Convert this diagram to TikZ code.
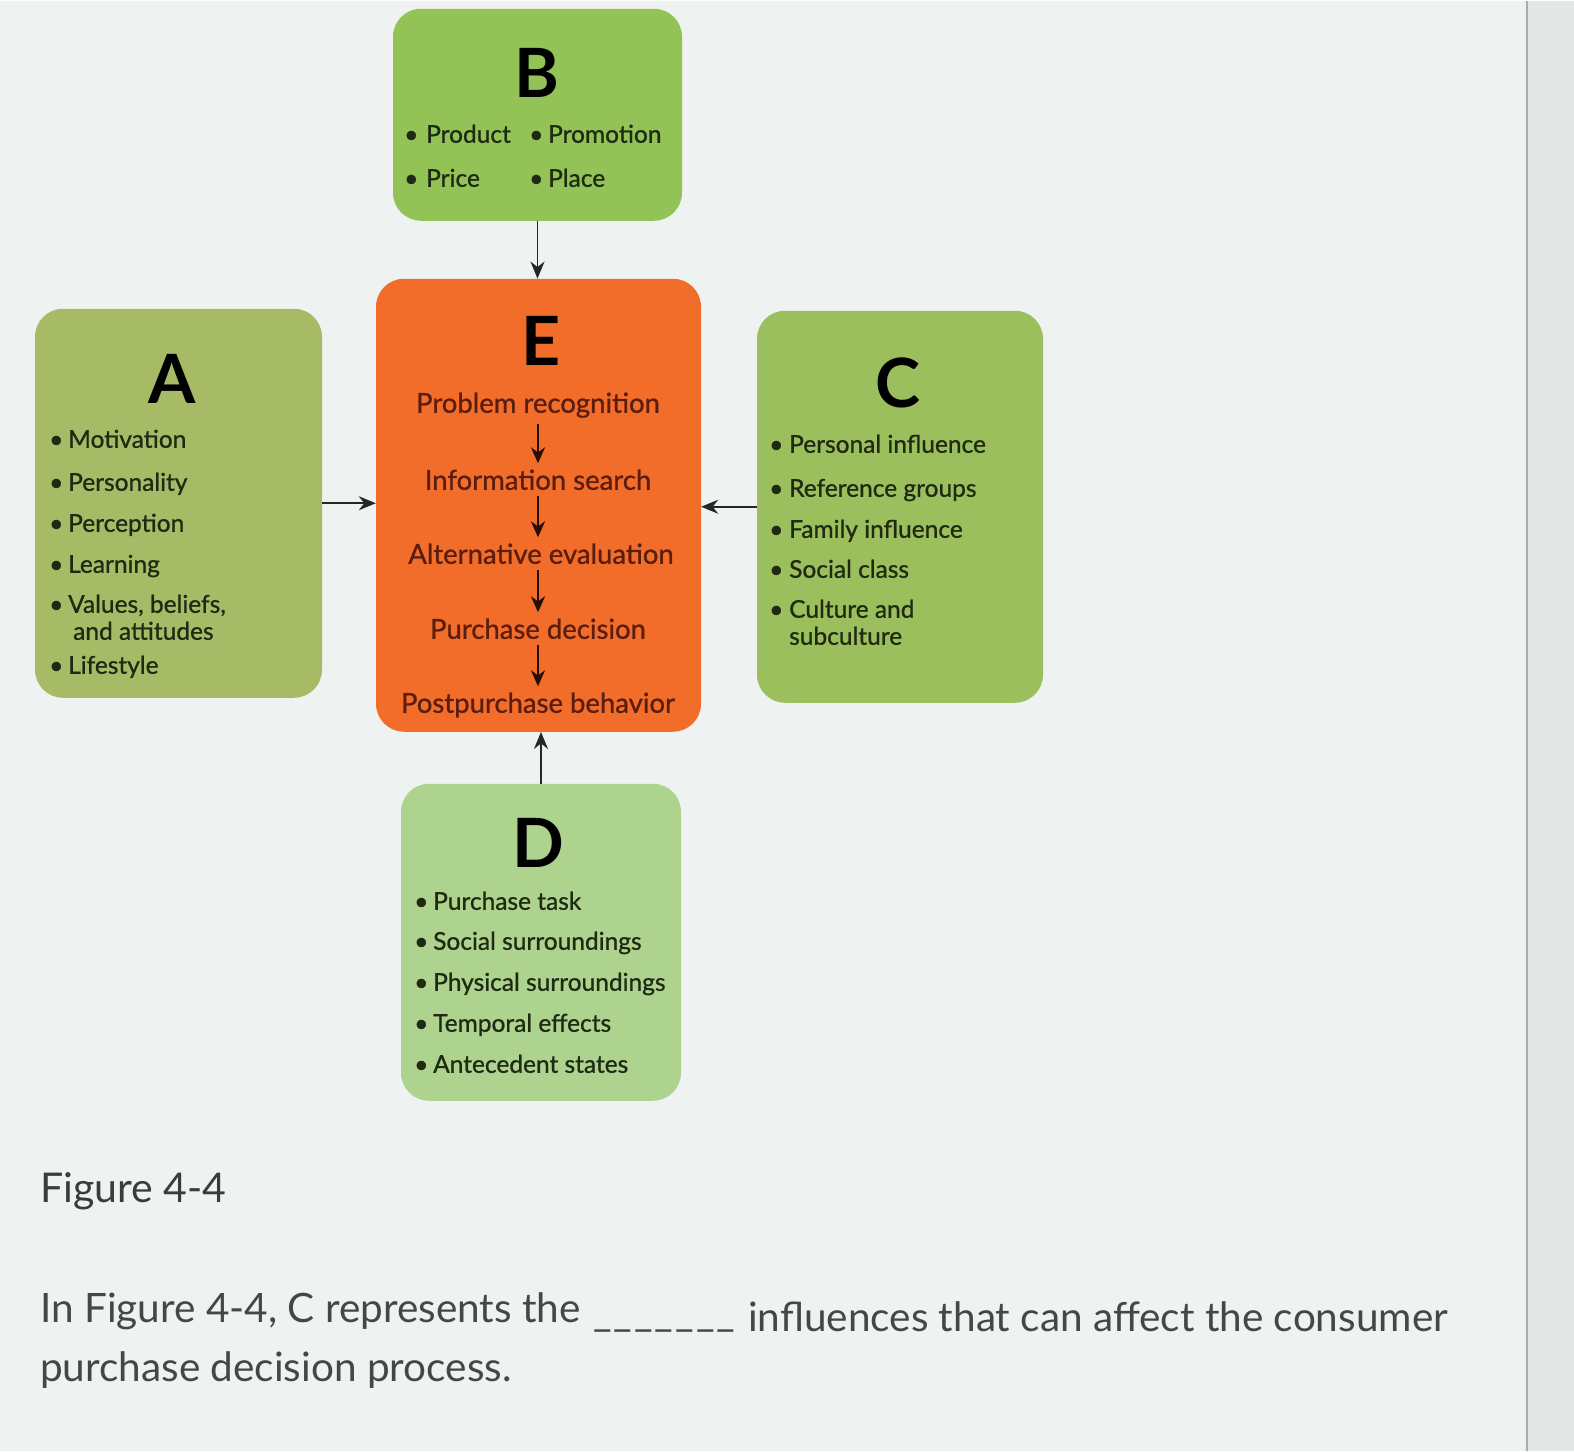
\documentclass[tikz,border=0pt]{standalone}
\usepackage{fontspec}
\setmainfont{Lato}
\newfontfamily\medfont{Lato}[FakeBold=0.9]
\usetikzlibrary{arrows.meta}
\definecolor{bgc}{HTML}{EEF2F1}
\definecolor{bgr}{HTML}{E3E7E6}
\definecolor{edgec}{HTML}{A9AEAD}
\definecolor{bgreen}{HTML}{93C257}
\definecolor{agreen}{HTML}{A7BB67}
\definecolor{cgreen}{HTML}{9BBF5C}
\definecolor{dgreen}{HTML}{ADD38F}
\definecolor{eorange}{HTML}{F36D2A}
\definecolor{itemc}{HTML}{1F2A12}
\definecolor{stepc}{HTML}{5A1D0E}
\definecolor{capc}{HTML}{3A3B3B}
\definecolor{qc}{HTML}{454747}
\begin{document}
\begin{tikzpicture}[x=1pt,y=-1pt,
  panel/.style={rounded corners=28pt, inner sep=0pt, draw=none},
  letter/.style={font=\fontsize{68}{68}\selectfont\bfseries, text=black, inner sep=0pt},
  item/.style={anchor=base west, inner sep=0pt, text=itemc, font=\medfont\fontsize{24.5}{28}\selectfont},
  stepn/.style={anchor=base, inner sep=3pt, text=stepc, font=\medfont\fontsize{27.5}{31}\selectfont},
  conn/.style={line width=1.8pt, draw=black!85, -{Stealth[length=17pt,width=14pt]}},
  steparrow/.style={line width=2.4pt, draw=stepc!45!black, -{Stealth[length=16pt,width=14pt]}, shorten <=3pt, shorten >=3pt},
  capt/.style={anchor=base west, inner sep=0pt, text=capc, font=\fontsize{41}{48}\selectfont},
  quest/.style={anchor=base west, inner sep=0pt, text=qc, font=\fontsize{40.5}{48}\selectfont}
]
% background
\fill[bgc] (0,0) rectangle (1574,1450);
\fill[bgr] (1527,0) rectangle (1574,1450);
\draw[edgec, line width=1.5pt] (1527,0) -- (1527,1450);
\useasboundingbox (0,0) rectangle (1574,1450);

% panels
\node[panel, fill=bgreen, minimum width=289pt, minimum height=212pt] (B) at (537.5,114) {};
\node[panel, fill=eorange, minimum width=325pt, minimum height=453pt] (E) at (538.5,504.5) {};
\node[panel, fill=agreen, minimum width=287pt, minimum height=389pt] (A) at (178.5,502.5) {};
\node[panel, fill=cgreen, minimum width=286pt, minimum height=392pt] (C) at (900,506) {};
\node[panel, fill=dgreen, minimum width=280pt, minimum height=317pt] (D) at (541,941.5) {};

% letters
\node[letter] (Bl) at (537,72) {B};
\node[letter] (El) at (541,340) {E};
\node[letter] (Al) at (172,378) {A};
\node[letter] (Cl) at (898,382) {C};
\node[letter] (Dl) at (538,842) {D};

% B items
\node[item] (b1d) at (404,142) {•};
\node[item] (b1) at (426,142) {Product};
\node[item] (b2d) at (529,142) {•};
\node[item] (b2) at (548,142) {Promotion};
\node[item] (b3d) at (404,186) {•};
\node[item] (b3) at (426,186) {Price};
\node[item] (b4d) at (529,186) {•};
\node[item] (b4) at (548,186) {Place};

% A items
\node[item] (a1d) at (49,447) {•};
\node[item] (a1) at (68,447) {Motivation};
\node[item] (a2d) at (49,490) {•};
\node[item] (a2) at (68,490) {Personality};
\node[item] (a3d) at (49,531) {•};
\node[item] (a3) at (68,531) {Perception};
\node[item] (a4d) at (49,572) {•};
\node[item] (a4) at (68,572) {Learning};
\node[item] (a5d) at (49,612) {•};
\node[item] (a5) at (68,612) {Values, beliefs,};
\node[item] (a5b) at (73,639) {and attitudes};
\node[item] (a6d) at (49,673) {•};
\node[item] (a6) at (68,673) {Lifestyle};

% C items
\node[item] (c1d) at (769,452) {•};
\node[item] (c1) at (789,452) {Personal influence};
\node[item] (c2d) at (769,496) {•};
\node[item] (c2) at (789,496) {Reference groups};
\node[item] (c3d) at (769,537) {•};
\node[item] (c3) at (789,537) {Family influence};
\node[item] (c4d) at (769,577) {•};
\node[item] (c4) at (789,577) {Social class};
\node[item] (c5d) at (769,617) {•};
\node[item] (c5) at (789,617) {Culture and};
\node[item] (c5b) at (789,644) {subculture};

% D items
\node[item] (d1d) at (414,909) {•};
\node[item] (d1) at (433,909) {Purchase task};
\node[item] (d2d) at (414,949) {•};
\node[item] (d2) at (433,949) {Social surroundings};
\node[item] (d3d) at (414,990) {•};
\node[item] (d3) at (433,990) {Physical surroundings};
\node[item] (d4d) at (414,1031) {•};
\node[item] (d4) at (433,1031) {Temporal effects};
\node[item] (d5d) at (414,1072) {•};
\node[item] (d5) at (433,1072) {Antecedent states};

% E steps
\node[stepn] (s1) at (538,412) {Problem recognition};
\node[stepn] (s2) at (538,489) {Information search};
\node[stepn] (s3) at (541,563) {Alternative evaluation};
\node[stepn] (s4) at (538,638) {Purchase decision};
\node[stepn] (s5) at (538,712) {Postpurchase behavior};
\draw[steparrow] (s1.south) -- (s1.south |- s2.north);
\draw[steparrow] (s2.south) -- (s2.south |- s3.north);
\draw[steparrow] (s3.south -| s2.south) -- (s2.south |- s4.north);
\draw[steparrow] (s4.south) -- (s5.north);

% connectors
\draw[conn] (B.south) -- (B.south |- E.north);
\draw[conn] (A.east) -- (A.east -| E.west);
\draw[conn] (C.west) -- (C.west -| E.east);
\draw[conn] (D.north) -- (D.north |- E.south);

% caption and question
\node[capt] (fig) at (40,1202) {Figure 4-4};
\node[quest] (q1) at (40,1322) {In Figure 4-4, C represents the};
\node[quest] (q2) at (593,1326) {\_\kern2pt\_\kern2pt\_\kern2pt\_\kern2pt\_\kern2pt\_\kern2pt\_};
\node[quest] (q3) at (748,1331) {influences that can affect the consumer};
\node[quest] (q4) at (40,1381) {purchase decision process.};
\end{tikzpicture}
\end{document}
